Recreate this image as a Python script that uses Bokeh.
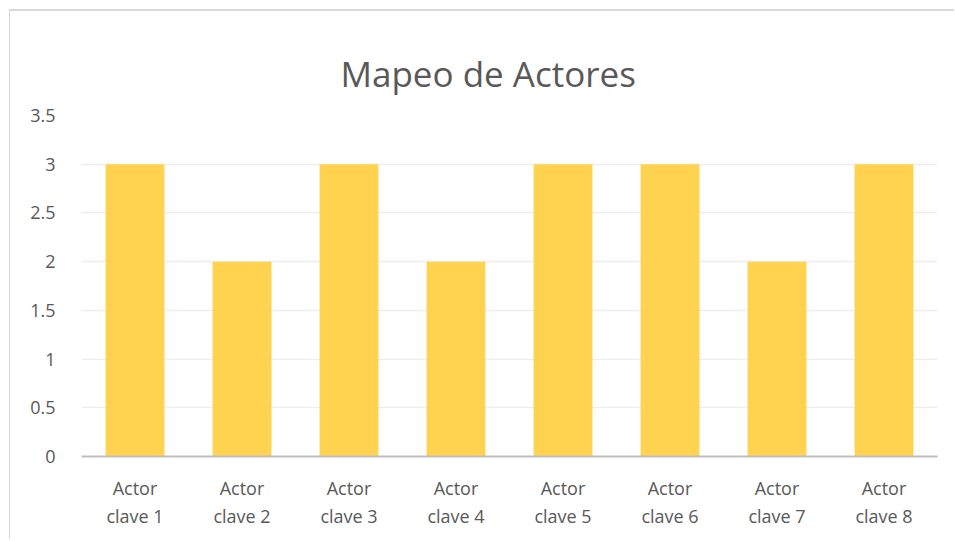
from bokeh.plotting import figure
from bokeh.models import Range1d, FixedTicker, Title
from bokeh.embed import file_html
from bokeh.resources import INLINE

categories = ["Actor clave 1", "Actor clave 2", "Actor clave 3", "Actor clave 4",
              "Actor clave 5", "Actor clave 6", "Actor clave 7", "Actor clave 8"]
values = [3, 2, 3, 2, 3, 3, 2, 3]
y_ticks = [0, 0.5, 1, 1.5, 2, 2.5, 3, 3.5]
y_tick_labels = ["0", "0.5", "1", "1.5", "2", "2.5", "3", "3.5"]
title_text = "Mapeo de Actores"

FONT = "Open Sans"
TXT = "#595959"

xs = [i + 0.5 for i in range(len(categories))]

p = figure(width=945, height=530, output_backend="svg", toolbar_location=None,
           x_range=Range1d(0, len(categories)), y_range=Range1d(0, 3.5),
           min_border_left=71, min_border_right=18, min_border_top=104, min_border_bottom=85)
p.styles = {"border-left": "1px solid #d9d9d9", "border-top": "2px solid #d9d9d9",
            "margin-left": "9px", "margin-top": "9px"}
p.outline_line_color = None
p.background_fill_color = "white"
p.border_fill_color = "white"

p.vbar(x=xs, top=values, width=0.55, bottom=0, color="#FFD34F", line_color=None)

p.xgrid.visible = False
p.ygrid.ticker = FixedTicker(ticks=y_ticks)
p.ygrid.grid_line_color = "#EDEDED"
p.ygrid.grid_line_width = 1.5

p.yaxis.ticker = FixedTicker(ticks=y_ticks)
p.yaxis.major_label_overrides = {t: l for t, l in zip(y_ticks, y_tick_labels)}
p.yaxis.axis_line_color = None
p.yaxis.major_tick_line_color = None
p.yaxis.minor_tick_line_color = None
p.yaxis.major_label_text_font = FONT
p.yaxis.major_label_text_font_size = "18px"
p.yaxis.major_label_text_color = TXT
p.yaxis.major_label_standoff = 20

p.xaxis.ticker = FixedTicker(ticks=xs)
p.xaxis.major_label_overrides = {x: c.replace("Actor ", "Actor\n") for x, c in zip(xs, categories)}
p.xaxis.axis_line_color = "#BFBFBF"
p.xaxis.axis_line_width = 2
p.xaxis.major_tick_line_color = None
p.xaxis.minor_tick_line_color = None
p.xaxis.major_label_text_font = FONT
p.xaxis.major_label_text_font_size = "18px"
p.xaxis.major_label_text_color = TXT
p.xaxis.major_label_standoff = 13
p.xaxis.major_label_text_line_height = 1.2

p.add_layout(Title(text=title_text, align="left", vertical_align="top", offset=259, standoff=33,
                   text_font=FONT, text_font_size="35px", text_font_style="normal",
                   text_color=TXT), "above")

open("out.html", "w").write(file_html(p, INLINE))
